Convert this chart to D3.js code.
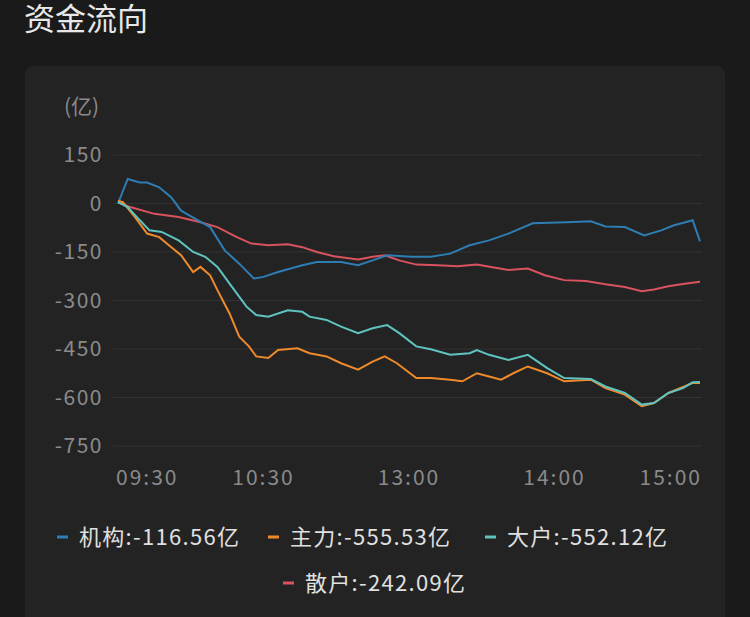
<!DOCTYPE html><html><head><meta charset="utf-8">
<script src="https://cdn.jsdelivr.net/npm/d3@7"></script>
<style>body{margin:0;background:#1a1a1a;}svg{display:block;font-family:"Noto Sans CJK SC","Noto Sans",sans-serif;}</style>
</head><body><svg id="c" width="750" height="617"></svg>
<script>
const yTicks=[150,0,-150,-300,-450,-600,-750];
const xTicks=[[0,"09:30"],[60,"10:30"],[120,"13:00"],[180,"14:00"],[240,"15:00"]];
const names=["机构","主力","大户","散户"];
const finals=["-116.56亿","-555.53亿","-552.12亿","-242.09亿"];
const colors=["#2e7db3","#ee8a2c","#5fc3c0","#d9535f"];
const jigou=[[0,0],[4,76],[9,65],[12,65],[17,50],[22,19],[26,-22],[33,-52],[38,-73],[44,-145],[50,-186],[56,-232],[60,-227],[66,-212],[76,-191],[82,-181],[92,-181],[99,-191],[105,-176],[111,-160],[121,-165],[129,-165],[137,-155],[145,-129],[153,-114],[161,-93],[171,-61],[185,-58],[195,-55],[201,-71],[209,-73],[217,-99],[224,-83],[229,-68],[237,-52],[240,-117]];
const zhuli=[[0,9],[2,4],[7,-42],[12,-93],[17,-104],[21,-129],[26,-160],[31,-212],[34,-196],[38,-222],[41,-268],[46,-340],[50,-412],[54,-442],[57,-473],[62,-478],[66,-453],[74,-448],[79,-463],[86,-473],[92,-494],[99,-514],[105,-489],[110,-473],[115,-494],[123,-540],[129,-540],[137,-545],[142,-550],[148,-525],[153,-535],[158,-545],[163,-525],[169,-504],[177,-525],[184,-550],[195,-545],[201,-571],[209,-591],[216,-627],[221,-617],[227,-586],[237,-555],[240,-555]];
const dahu=[[0,4],[4,-11],[9,-52],[13,-83],[18,-88],[25,-114],[31,-150],[36,-165],[41,-196],[47,-258],[53,-319],[57,-345],[62,-350],[70,-330],[76,-335],[79,-350],[86,-360],[92,-381],[99,-401],[105,-386],[111,-376],[116,-401],[123,-442],[129,-451],[137,-468],[145,-463],[148,-453],[153,-468],[161,-484],[169,-468],[177,-509],[184,-540],[195,-543],[201,-566],[209,-586],[216,-622],[221,-617],[227,-586],[233,-571],[237,-553],[240,-552]];
const sanhu=[[0,4],[5,-11],[15,-32],[25,-42],[34,-58],[41,-73],[49,-104],[55,-124],[62,-129],[70,-126],[76,-135],[82,-150],[89,-163],[99,-173],[105,-165],[110,-160],[116,-176],[123,-189],[132,-191],[140,-194],[148,-189],[155,-198],[161,-206],[169,-201],[176,-222],[184,-237],[193,-240],[201,-250],[209,-258],[216,-271],[221,-266],[227,-256],[233,-249],[240,-242]];
const series=[jigou,zhuli,dahu,sanhu];
const svg=d3.select("#c");
svg.append("text").attr("x",24).attr("y",30).attr("fill","#e8e8e8").attr("font-size",31).text("资金流向");
svg.append("rect").attr("x",25).attr("y",66).attr("width",700).attr("height",580).attr("rx",8).attr("fill","#232323");
const x=d3.scaleLinear().domain([0,240]).range([118,700]);
const y=d3.scaleLinear().domain([150,-750]).range([155,446]);
svg.append("text").attr("x",64).attr("y",114).attr("fill","#8a8a8a").attr("font-size",21).text("(亿)");
yTicks.forEach(t=>{
 svg.append("line").attr("x1",113).attr("x2",702).attr("y1",y(t)).attr("y2",y(t)).attr("stroke","#333").attr("stroke-width",1);
 svg.append("text").attr("x",103).attr("y",y(t)+7).attr("text-anchor","end").attr("fill","#8a8a8a").attr("font-size",21).attr("letter-spacing",1.5).text(t);
});
xTicks.forEach(([v,l],i)=>{
 svg.append("text").attr("x",i==0?x(v)-2:(i==4?x(v)+2:x(v))).attr("y",485).attr("text-anchor",i==0?"start":(i==4?"end":"middle")).attr("fill","#8a8a8a").attr("font-size",21).attr("letter-spacing",2).text(l);
});
const line=d3.line().x(d=>x(d[0])).y(d=>y(d[1]));
[3,0,1,2].forEach(k=>svg.append("path").attr("d",line(series[k])).attr("fill","none").attr("stroke",colors[k]).attr("stroke-width",2));
const lp=[[57,537],[268,537],[485,537],[283,583]];
names.forEach((n,k)=>{
 svg.append("rect").attr("x",lp[k][0]).attr("y",lp[k][1]-1.5).attr("width",11).attr("height",3).attr("fill",colors[k]);
 svg.append("text").attr("x",lp[k][0]+22).attr("y",lp[k][1]+8).attr("fill","#e0e0e0").attr("font-size",22).attr("letter-spacing",1.3).text(n+":"+finals[k]);
});
</script></body></html>
